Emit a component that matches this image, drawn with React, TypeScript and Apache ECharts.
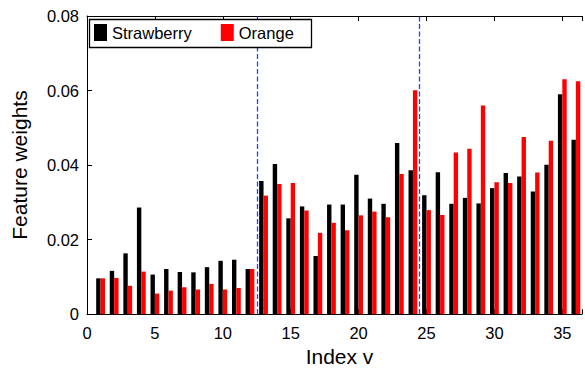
import React, { useEffect, useRef } from "react";
import * as echarts from "echarts";

const indices = [1,2,3,4,5,6,7,8,9,10,11,12,13,14,15,16,17,18,19,20,21,22,23,24,25,26,27,28,29,30,31,32,33,34,35,36];
const strawberry = [0.0096,0.0116,0.0163,0.0286,0.0106,0.0121,0.0113,0.0112,0.0126,0.0143,0.0146,0.0121,0.0357,0.0403,0.0257,0.0289,0.0156,0.0294,0.0294,0.0374,0.0310,0.0296,0.0459,0.0386,0.0319,0.0381,0.0296,0.0312,0.0297,0.0338,0.0379,0.0369,0.0329,0.0401,0.0590,0.0468];
const orange = [0.0096,0.0097,0.0076,0.0114,0.0055,0.0063,0.0072,0.0066,0.0081,0.0066,0.0070,0.0121,0.0318,0.0349,0.0352,0.0278,0.0218,0.0245,0.0225,0.0265,0.0275,0.0260,0.0376,0.0601,0.0279,0.0266,0.0434,0.0444,0.0560,0.0354,0.0352,0.0475,0.0380,0.0465,0.0630,0.0625];
const dividers = [12.5, 24.5];
const seriesNames = ["Strawberry", "Orange"];

const FONT = "'Liberation Sans', Arial, Helvetica, sans-serif";
const DASH_COLOR = "#1f45ff";

export default function App() {
  const ref = useRef<HTMLDivElement>(null);
  useEffect(() => {
    if (!ref.current) return;
    const chart = echarts.init(ref.current, null, { renderer: "svg" });
    const xMax = 36.45;
    const axisCommon = {
      type: "value",
      min: 0,
      max: xMax,
      interval: 5,
      splitLine: { show: false },
      axisLine: { show: true, lineStyle: { color: "#000", width: 1 } },
      axisTick: { show: true, inside: true, length: 5, lineStyle: { color: "#000" } },
    };
    const dashStyle = { color: DASH_COLOR, type: [5, 2.5], width: 1.3, opacity: 1 };
    chart.setOption({
      animation: false,
      textStyle: { fontFamily: FONT },
      grid: { left: 87, top: 16, right: 0, bottom: 51, containLabel: false },
      legend: {
        left: 89,
        top: 19,
        padding: [5, 6, 5, 5],
        itemWidth: 13,
        itemHeight: 17,
        itemGap: 29,
        z: 10,
        icon: "rect",
        textStyle: { fontFamily: FONT, fontSize: 16.5, color: "#000" },
        data: seriesNames,
        selectedMode: false,
      },
      graphic: [
        {
          type: "rect",
          z: 9,
          shape: { x: 89.5, y: 19.5, width: 222, height: 28 },
          style: { fill: "#fff", stroke: "#000", lineWidth: 1.3 },
        },
      ],
      xAxis: [
        {
          ...axisCommon,
          position: "bottom",
          name: "Index v",
          nameLocation: "middle",
          nameGap: 29,
          nameTextStyle: { fontFamily: FONT, fontSize: 21, color: "#000", padding: [0, 0, 0, 10] },
          axisLabel: {
            fontFamily: FONT,
            fontSize: 16.5,
            color: "#000",
            margin: 10,
            formatter: (v: number) => (Math.abs(v % 5) < 1e-9 ? String(v) : ""),
          },
        },
        {
          ...axisCommon,
          position: "top",
          axisLabel: { show: false },
        },
      ],
      yAxis: {
        type: "value",
        min: 0,
        max: 0.08,
        interval: 0.02,
        name: "Feature weights",
        nameLocation: "middle",
        nameGap: 57,
        nameRotate: 90,
        nameTextStyle: { fontFamily: FONT, fontSize: 21, color: "#000" },
        splitLine: { show: false },
        axisLine: { show: true, lineStyle: { color: "#000", width: 1 } },
        axisTick: { show: true, inside: true, length: 5, lineStyle: { color: "#000" } },
        axisLabel: {
          fontFamily: FONT,
          fontSize: 16.5,
          color: "#000",
          margin: 8,
          formatter: (v: number) => (v === 0 ? "0" : v.toFixed(2)),
        },
      },
      series: [
        {
          name: seriesNames[0],
          type: "bar",
          barWidth: 4.4,
          barGap: "0%",
          itemStyle: { color: "#000" },
          data: indices.map((x, i) => [x, strawberry[i]]),
        },
        {
          name: seriesNames[1],
          type: "bar",
          barWidth: 4.4,
          barGap: "0%",
          itemStyle: { color: "#ff0000" },
          data: indices.map((x, i) => [x, orange[i]]),
        },
        {
          name: "dividers",
          type: "line",
          data: [],
          z: 5,
          markLine: {
            silent: true,
            symbol: "none",
            label: { show: false },
            lineStyle: dashStyle,
            data: dividers.map((d) => ({ xAxis: d, lineStyle: dashStyle })),
          },
        },
      ],
    });
    return () => chart.dispose();
  }, []);
  return (
    <div
      ref={ref}
      style={{ position: "absolute", left: 0, top: 0, width: 585, height: 372, background: "#fff" }}
    />
  );
}
